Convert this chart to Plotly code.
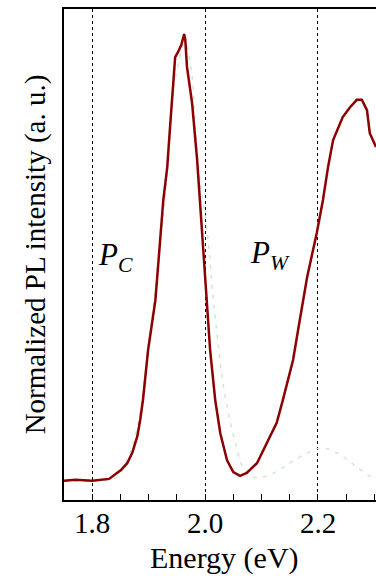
import plotly.graph_objects as go

# Main PL spectrum (energy in eV, normalized intensity)
pl_energy = [1.750, 1.770, 1.800, 1.830, 1.851, 1.862, 1.871, 1.880, 1.885, 1.890, 1.899, 1.912, 1.926,
             1.933, 1.938, 1.943, 1.947, 1.952, 1.958, 1.963, 1.965, 1.968, 1.977,
             1.986, 1.991, 1.996, 2.004, 2.009, 2.018, 2.027, 2.039, 2.050, 2.062,
             2.074, 2.092, 2.110, 2.127, 2.138, 2.156, 2.168, 2.181, 2.198, 2.209,
             2.218, 2.227, 2.244, 2.257, 2.269, 2.278, 2.287, 2.292, 2.303]
pl_intensity = [0.039, 0.041, 0.039, 0.043, 0.061, 0.075, 0.096, 0.130, 0.163, 0.204, 0.305, 0.407, 0.611,
                0.678, 0.760, 0.841, 0.902, 0.912, 0.927, 0.949, 0.937, 0.882, 0.809,
                0.692, 0.611, 0.523, 0.407, 0.305, 0.204, 0.136, 0.081, 0.057, 0.049,
                0.055, 0.075, 0.116, 0.157, 0.204, 0.285, 0.367, 0.454, 0.544, 0.611,
                0.678, 0.733, 0.780, 0.800, 0.815, 0.815, 0.794, 0.747, 0.719]

# Faint dashed reference spectrum
ref_energy = [1.750, 1.820, 1.844, 1.864, 1.880, 1.903, 1.929, 1.947, 1.965, 1.977,
              1.982, 1.989, 2.004, 2.012, 2.021, 2.030, 2.044, 2.057, 2.067, 2.085,
              2.110, 2.150, 2.181, 2.207, 2.234, 2.269, 2.301]
ref_intensity = [0.039, 0.040, 0.047, 0.088, 0.149, 0.346, 0.611, 0.855, 0.931, 0.862,
                 0.780, 0.672, 0.544, 0.442, 0.340, 0.251, 0.163, 0.102, 0.067, 0.047,
                 0.049, 0.075, 0.096, 0.106, 0.096, 0.067, 0.041]

major_ticks = [1.8, 2.0, 2.2]
major_tick_text = ["1.8", "2.0", "2.2"]
all_ticks = [1.75, 1.80, 1.85, 1.90, 1.95, 2.00, 2.05, 2.10, 2.15, 2.20, 2.25, 2.30]

labels = ["<i>P</i><sub><i>C</i></sub>", "<i>P</i><sub><i>W</i></sub>"]
label_x = [1.842, 2.115]
label_y = [0.495, 0.499]

x_title = "Energy (eV)"
y_title = "Normalized PL intensity (a. u.)"

FONT = "Liberation Serif"

fig = go.Figure()
fig.add_trace(go.Scatter(x=ref_energy, y=ref_intensity, mode="lines",
                         line=dict(color="#cfe9cf", width=1.5, dash="4px,6px", shape="spline"),
                         hoverinfo="skip", showlegend=False))
fig.add_trace(go.Scatter(x=pl_energy, y=pl_intensity, mode="lines",
                         line=dict(color="#8B0000", width=2.5),
                         showlegend=False))
# invisible trace on the grid axis so it renders
fig.add_trace(go.Scatter(x=[pl_energy[0]], y=[pl_intensity[0]], xaxis="x2", mode="markers",
                         marker=dict(opacity=0), hoverinfo="skip", showlegend=False))

for t, xx, yy in zip(labels, label_x, label_y):
    fig.add_annotation(x=xx, y=yy, text=t, showarrow=False,
                       font=dict(family=FONT, size=31, color="black"))

# tick labels placed at the axis tick values (serif text)
for v, t in zip(major_ticks, major_tick_text):
    fig.add_annotation(x=v, xref="x", y=0, yref="paper", yanchor="top", yshift=-5,
                       text=t, showarrow=False,
                       font=dict(family=FONT, size=29, color="black"))

fig.add_annotation(x=0.513, xref="paper", y=0, yref="paper", yanchor="top", yshift=-39,
                   text=x_title, showarrow=False,
                   font=dict(family=FONT, size=30, color="black"))

fig.update_layout(
    width=376, height=577,
    margin=dict(l=64, r=0, t=9, b=77, autoexpand=False),
    paper_bgcolor="white", plot_bgcolor="white",
    font=dict(family=FONT, color="black", size=29),
    xaxis=dict(
        range=[1.75, 2.303], tickmode="array", tickvals=all_ticks,
        showticklabels=False,
        ticks="inside", ticklen=6, tickcolor="black", tickwidth=1,
        showgrid=False, automargin=False,
        showline=True, linecolor="black", linewidth=1.5, mirror=True,
        zeroline=False,
    ),
    xaxis2=dict(
        range=[1.75, 2.303], overlaying="x", tickmode="array", tickvals=major_ticks,
        showticklabels=False, ticks="", showline=False, zeroline=False, automargin=False,
        showgrid=True, gridcolor="black", gridwidth=1, griddash="dot",
    ),
    yaxis=dict(
        range=[0, 1], showticklabels=False, ticks="", showgrid=False, zeroline=False,
        showline=True, linecolor="black", linewidth=1.5, mirror=False, automargin=False,
        title=dict(text=y_title, font=dict(family=FONT, size=29, color="black"), standoff=8),
    ),
)

fig.write_html("out.html")
